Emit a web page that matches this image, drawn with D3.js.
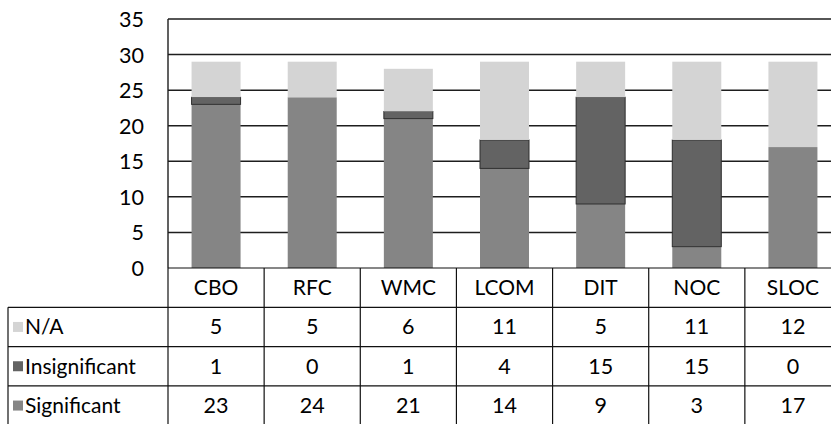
<!DOCTYPE html>
<html><head><meta charset="utf-8">
<script src="https://cdn.jsdelivr.net/npm/d3@7"></script>
<style>body{margin:0;background:#fff;overflow:hidden}svg{display:block}</style>
</head><body>
<script>
const categories = ["CBO","RFC","WMC","LCOM","DIT","NOC","SLOC"];
const significant = [23,24,21,14,9,3,17];
const insignificant = [1,0,1,4,15,15,0];
const na = [5,5,6,11,5,11,12];
const seriesNames = ["N/A","Insignificant","Significant"];
const yTicks = [0,5,10,15,20,25,30,35];

(function(){
const W = 831, H = 424;
const colors = {"Significant":"#858585","Insignificant":"#636363","N/A":"#d4d4d4"};
const font = "Lato, 'Open Sans', sans-serif";

const svg = d3.select("body").append("svg").attr("width",W).attr("height",H);

const plotLeft = 168, plotRight = 841, plotTop = 19, zeroY = 268;
const x = d3.scaleBand().domain(categories).range([plotLeft,plotRight]).paddingInner(0).paddingOuter(0);
const y = d3.scaleLinear().domain([0,35]).range([zeroY, plotTop]);

svg.append("g").selectAll("line").data(yTicks.filter(d=>d>0)).join("line")
  .attr("x1",plotLeft).attr("x2",plotRight).attr("y1",d=>y(d)).attr("y2",d=>y(d))
  .attr("stroke","#1e1e1e").attr("stroke-width",1.5);

const yAxis = d3.axisLeft(y).tickValues(yTicks).tickSize(0).tickPadding(0);
const ga = svg.append("g").attr("transform",`translate(144,0)`).call(yAxis);
ga.select(".domain").remove();
ga.selectAll("text").attr("font-family",font).attr("font-size",21.5).attr("fill","#000").attr("dy","0.35em");

const rows = categories.map((c,i)=>({cat:c,"Significant":significant[i],"Insignificant":insignificant[i],"N/A":na[i]}));
const stack = d3.stack().keys(["Significant","Insignificant","N/A"])(rows);
const bw = 49;
const off = (x.bandwidth()-bw)/2;
svg.append("g").selectAll("g").data(stack).join("g")
  .attr("fill",d=>colors[d.key])
  .attr("stroke",d=>d.key==="Insignificant"?"#2e2e2e":"none")
  .attr("stroke-width",1)
  .selectAll("rect").data(d=>d.filter(v=>v[1]>v[0])).join("rect")
  .attr("x",d=>x(d.data.cat)+off).attr("width",bw)
  .attr("y",d=>y(d[1])).attr("height",d=>y(d[0])-y(d[1]));

svg.append("line").attr("x1",plotLeft).attr("x2",plotLeft).attr("y1",plotTop).attr("y2",zeroY)
  .attr("stroke","#1e1e1e").attr("stroke-width",1.4);

const rowH = 39.3;
const tableRows = [
  {name:"N/A", vals:na},
  {name:"Insignificant", vals:insignificant},
  {name:"Significant", vals:significant}
];
const tableLeft = 8;
const tg = svg.append("g");
const lineAttr = sel => sel.attr("stroke","#111").attr("stroke-width",1.2);
tg.append("line").attr("x1",plotLeft).attr("x2",plotRight).attr("y1",zeroY).attr("y2",zeroY).call(lineAttr);
for (let r=1;r<=4;r++){
  tg.append("line").attr("x1",tableLeft).attr("x2",plotRight).attr("y1",zeroY+r*rowH).attr("y2",zeroY+r*rowH).call(lineAttr);
}
categories.forEach(c=>{
  tg.append("line").attr("x1",x(c)).attr("x2",x(c)).attr("y1",zeroY).attr("y2",zeroY+4*rowH).call(lineAttr);
});
tg.append("line").attr("x1",plotRight).attr("x2",plotRight).attr("y1",zeroY).attr("y2",zeroY+4*rowH).call(lineAttr);
tg.append("line").attr("x1",tableLeft).attr("x2",tableLeft).attr("y1",zeroY+rowH).attr("y2",zeroY+4*rowH).call(lineAttr);

tg.selectAll("text.hdr").data(categories).join("text").attr("class","hdr")
  .attr("x",d=>x(d)+x.bandwidth()/2).attr("y",zeroY+rowH/2).attr("dy","0.35em")
  .attr("text-anchor","middle").attr("font-family",font).attr("font-size",21).attr("fill","#000")
  .text(d=>d);

tableRows.forEach((row,r)=>{
  const cy = zeroY+(r+1)*rowH+rowH/2;
  tg.append("rect").attr("x",13).attr("y",cy-5).attr("width",10).attr("height",10)
    .attr("fill",colors[row.name]);
  tg.append("text").attr("x",25).attr("y",cy).attr("dy","0.35em")
    .attr("font-family",font).attr("font-size",21).attr("fill","#000").text(row.name);
  tg.selectAll(null).data(row.vals).join("text")
    .attr("x",(d,i)=>x(categories[i])+x.bandwidth()/2).attr("y",cy).attr("dy","0.35em")
    .attr("text-anchor","middle").attr("font-family",font).attr("font-size",21.5).attr("fill","#000")
    .text(d=>d);
});
})();
</script>
</body></html>
